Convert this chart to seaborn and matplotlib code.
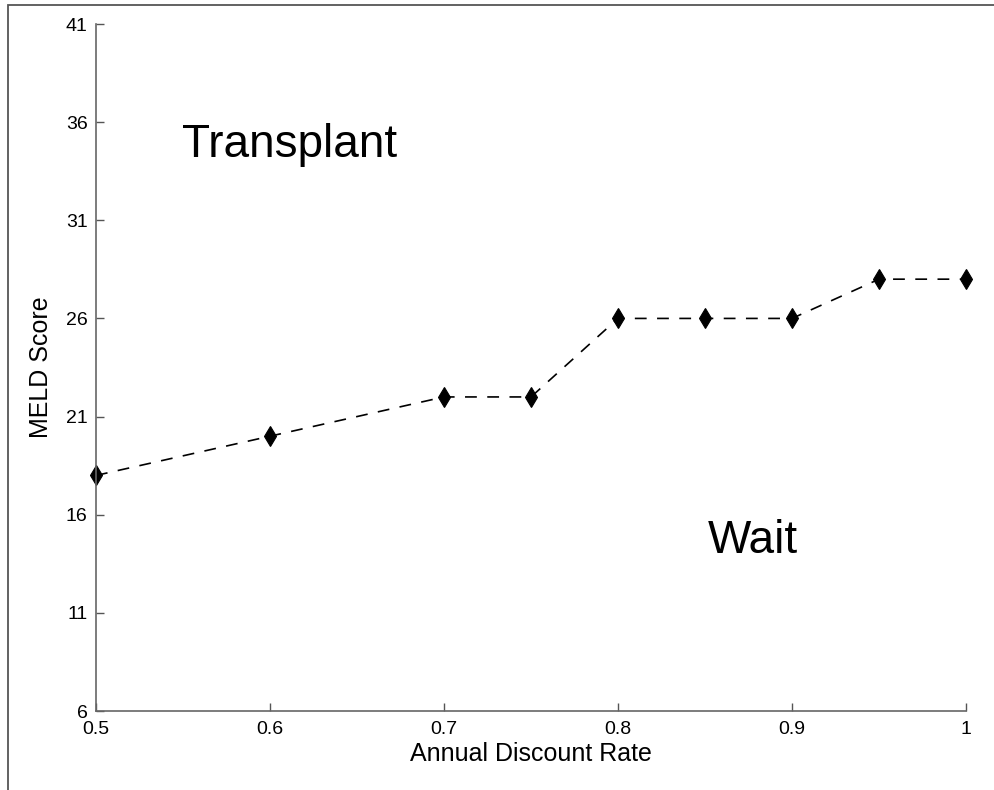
import matplotlib
matplotlib.use("Agg")
import matplotlib.pyplot as plt
from matplotlib.patches import Rectangle
import seaborn as sns
import pandas as pd

# MELD threshold between transplanting and waiting, by annual discount rate
discount_rate = [0.5, 0.6, 0.7, 0.75, 0.8, 0.85, 0.9, 0.95, 1.0]
meld_score = [18, 20, 22, 22, 26, 26, 26, 28, 28]
x_ticks = [0.5, 0.6, 0.7, 0.8, 0.9, 1.0]
x_tick_labels = ["0.5", "0.6", "0.7", "0.8", "0.9", "1"]
y_ticks = [6, 11, 16, 21, 26, 31, 36, 41]
y_tick_labels = ["6", "11", "16", "21", "26", "31", "36", "41"]

sns.set_theme(style="ticks")
plt.rcParams["font.family"] = ["Liberation Sans", "DejaVu Sans"]
plt.rcParams["lines.scale_dashes"] = False

df = pd.DataFrame({"rate": discount_rate, "meld": meld_score})

W, H = 994, 790
fig = plt.figure(figsize=(W / 100, H / 100), dpi=100)
fig.patch.set_facecolor("white")
ax = fig.add_axes([96 / W, 1 - 711 / H, (966 - 96) / W, (711 - 24) / H])

sns.lineplot(data=df, x="rate", y="meld", ax=ax, color="black",
             linestyle=(0, (8.5, 7.5)), linewidth=1.2,
             marker="d", markersize=10, markeredgecolor="black",
             markerfacecolor="black", markeredgewidth=0.8, clip_on=False)

ax.set_xlim(0.5, 1.0)
ax.set_ylim(6, 41)
ax.set_xticks(x_ticks)
ax.set_xticklabels(x_tick_labels)
ax.set_yticks(y_ticks)
ax.set_yticklabels(y_tick_labels)
ax.tick_params(direction="in", length=6, width=1.0, color="#555555",
               labelsize=14, labelcolor="black")
ax.tick_params(axis="x", pad=7)
ax.tick_params(axis="y", pad=6)

for side in ["top", "right"]:
    ax.spines[side].set_visible(False)
for side in ["left", "bottom"]:
    ax.spines[side].set_color("#666666")
    ax.spines[side].set_linewidth(1.2)

ax.set_xlabel("Annual Discount Rate", fontsize=18, color="black", labelpad=3)
ax.set_ylabel("MELD Score", fontsize=18, color="black", labelpad=9)

ax.text(0.5494, 34.2, "Transplant", fontsize=33, ha="left", va="baseline",
        color="black")
ax.text(0.8517, 14.05, "Wait", fontsize=33, ha="left", va="baseline",
        color="black")

# outer frame line along left and top edges
fig.patches.append(Rectangle((8 / W, -0.1), 2.0, 1 - 5 / H + 0.1,
                             transform=fig.transFigure, fill=False,
                             edgecolor="#555555", linewidth=1.3,
                             clip_on=False))

fig.savefig("out.png", dpi=100, facecolor="white")
